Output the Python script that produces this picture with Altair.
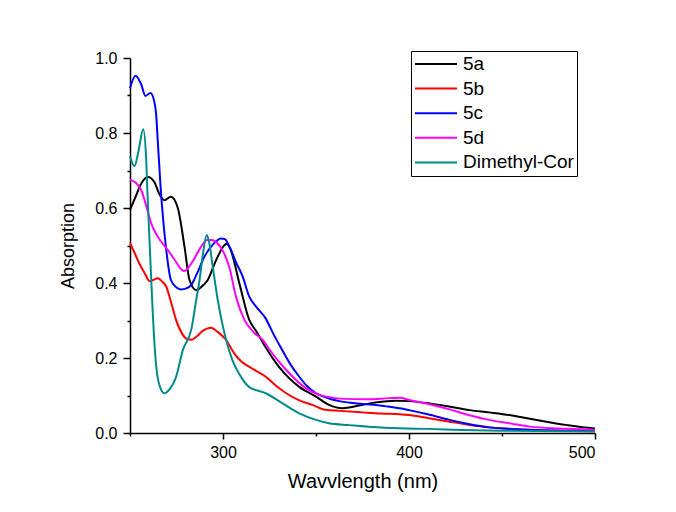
import altair as alt
import pandas as pd

# ---- data ----
wl_5a = [250, 253, 256, 259.6, 263, 266, 268.5, 272, 275.7, 279.3, 282, 285.6, 288, 291.8, 296.3,
         300.8, 302, 304, 309, 314, 317.8, 323, 330, 341, 350, 357, 364, 370, 378.8, 393, 400,
         411, 420, 432.5, 443, 454, 465, 473.8, 485, 498.7, 500]
ab_5a = [0.595, 0.63, 0.665, 0.683, 0.670, 0.635, 0.621, 0.630, 0.600, 0.497, 0.408, 0.381, 0.388,
         0.408, 0.461, 0.501, 0.505, 0.49, 0.395, 0.303, 0.272, 0.228, 0.177, 0.123, 0.097, 0.075,
         0.066, 0.070, 0.079, 0.086, 0.085, 0.079, 0.072, 0.061, 0.055, 0.048, 0.038, 0.030, 0.021,
         0.0125, 0.012]

wl_5b = [250, 252.5, 255, 258, 260.5, 262.5, 265, 267, 269.5, 272, 274.8, 278, 281, 283, 286, 289,
         293.6, 297, 301.7, 306, 310, 314, 318, 323, 328, 334, 341, 348, 355, 362.6, 375, 385, 395,
         400, 410, 421.8, 432, 443, 455, 465, 480, 500]
ab_5b = [0.506, 0.48, 0.452, 0.425, 0.405, 0.408, 0.413, 0.405, 0.39, 0.35, 0.301, 0.265, 0.250,
         0.249, 0.258, 0.272, 0.281, 0.27, 0.248, 0.2125, 0.19, 0.177, 0.165, 0.150, 0.128, 0.106,
         0.087, 0.075, 0.062, 0.059, 0.055, 0.052, 0.050, 0.048, 0.040, 0.030, 0.022, 0.015, 0.011,
         0.008, 0.006, 0.005]

wl_5c = [250, 253, 256, 258.3, 261, 263, 264, 265, 266.4, 269.5, 272, 275, 277.5, 280, 283, 286,
         290, 295, 299, 301, 303.5, 307, 310.6, 314, 317.8, 323, 327, 331.3, 336, 341, 345, 350,
         357, 362.6, 370, 378.8, 388, 395, 400, 410, 421.8, 432, 443, 455, 465, 500]
ab_5c = [0.92, 0.953, 0.93, 0.899, 0.907, 0.885, 0.853, 0.773, 0.66, 0.488, 0.408, 0.388, 0.383,
         0.385, 0.395, 0.425, 0.47, 0.505, 0.519, 0.517, 0.497, 0.455, 0.417, 0.365, 0.337, 0.305,
         0.265, 0.226, 0.185, 0.150, 0.126, 0.106, 0.092, 0.085, 0.080, 0.076, 0.071, 0.066, 0.061,
         0.050, 0.035, 0.024, 0.015, 0.011, 0.009, 0.005]

wl_5d = [250, 253, 256, 259.6, 261.4, 265, 270.3, 274, 277.5, 279, 282, 284.7, 288, 291.5, 294, 297,
         300, 303.5, 307, 311.6, 317, 321.4, 325, 334, 344.7, 350, 355.5, 365, 377, 389.5, 395,
         400, 410, 421.8, 432, 443, 455, 465, 480, 500]
ab_5d = [0.675, 0.668, 0.648, 0.590, 0.559, 0.523, 0.488, 0.462, 0.437, 0.432, 0.445, 0.466, 0.495,
         0.515, 0.515, 0.506, 0.485, 0.44, 0.363, 0.301, 0.266, 0.248, 0.222, 0.168, 0.119, 0.105,
         0.097, 0.091, 0.090, 0.093, 0.094, 0.088, 0.078, 0.063, 0.048, 0.035, 0.025, 0.017, 0.012,
         0.009]

wl_dm = [250, 252.4, 254.5, 257.1, 258.7, 259.3, 260.6, 261.5, 263, 264.5, 266, 268.5, 271, 274.8,
         278.4, 283, 285.6, 287.4, 289, 291.3, 292.5, 294.5, 297, 300, 305, 309, 314, 323, 332,
         341, 350, 357, 368, 380, 395, 410, 428.7, 450, 500]
ab_dm = [0.737, 0.712, 0.75, 0.81, 0.73, 0.65, 0.50, 0.40, 0.25, 0.16, 0.125, 0.106, 0.115, 0.150,
         0.221, 0.277, 0.355, 0.408, 0.47, 0.528, 0.51, 0.443, 0.36, 0.283, 0.195, 0.155, 0.123,
         0.106, 0.079, 0.0525, 0.035, 0.026, 0.021, 0.016, 0.0125, 0.011, 0.008, 0.006, 0.004]

series_names = ["5a", "5b", "5c", "5d", "Dimethyl-Cor"]
series_colors = ["#000000", "#FF0000", "#0000FF", "#FF00FF", "#008B8B"]
x_ticks = [250, 300, 350, 400, 450, 500]
y_ticks = [0.0, 0.1, 0.2, 0.3, 0.4, 0.5, 0.6, 0.7, 0.8, 0.9, 1.0]

frames = []
for name, wl, ab in zip(series_names,
                        [wl_5a, wl_5b, wl_5c, wl_5d, wl_dm],
                        [ab_5a, ab_5b, ab_5c, ab_5d, ab_dm]):
    frames.append(pd.DataFrame({"series": name, "wavelength": wl, "absorption": ab}))
df = pd.concat(frames, ignore_index=True)

FONT = "Liberation Sans"

chart = alt.Chart(df).mark_line(strokeWidth=2, interpolate="monotone").encode(
    x=alt.X("wavelength:Q",
            scale=alt.Scale(domain=[250, 500], nice=False, zero=False),
            axis=alt.Axis(values=x_ticks, format="d",
                          labelExpr="datum.value % 100 == 0 ? datum.label : ''",
                          tickSize={"condition": {"test": "datum.value % 100 != 0", "value": 3}, "value": 6},
                          title="Wavvlength (nm)")),
    y=alt.Y("absorption:Q",
            scale=alt.Scale(domain=[0, 1.0], nice=False),
            axis=alt.Axis(values=y_ticks, format=".1f",
                          labelExpr="round(datum.value*10) % 2 == 0 ? datum.label : ''",
                          tickSize={"condition": {"test": "round(datum.value*10) % 2 != 0", "value": 3}, "value": 7},
                          title="Absorption")),
    color=alt.Color("series:N",
                    scale=alt.Scale(domain=series_names, range=series_colors),
                    legend=alt.Legend(title=None, orient="none", legendX=281, legendY=-7,
                                      symbolType="stroke", symbolSize=1764, symbolStrokeWidth=2,
                                      labelFontSize=19, labelFont=FONT, labelColor="black",
                                      strokeColor="black", padding=3, rowPadding=4.6,
                                      clipHeight=20, labelOffset=5, fillColor="white")),
    detail="series:N",
).properties(
    width=465, height=375,
    autosize=alt.AutoSizeParams(type="none"),
    padding={"left": 130, "top": 58, "right": 81, "bottom": 79},
    background="white",
).configure_view(
    stroke=None
).configure_axis(
    grid=False,
    domainColor="black", domainWidth=1.5,
    tickColor="black", tickWidth=1.5,
    labelFont=FONT, labelFontSize=16, labelColor="black",
    titleFont=FONT, titleColor="black", titleFontWeight="normal",
).configure_axisX(
    labelPadding=5, titleFontSize=20, titlePadding=11,
).configure_axisY(
    labelPadding=6, titleFontSize=18, titlePadding=17,
)

chart.save("out.html", embed_options={"renderer": "svg", "actions": False})
